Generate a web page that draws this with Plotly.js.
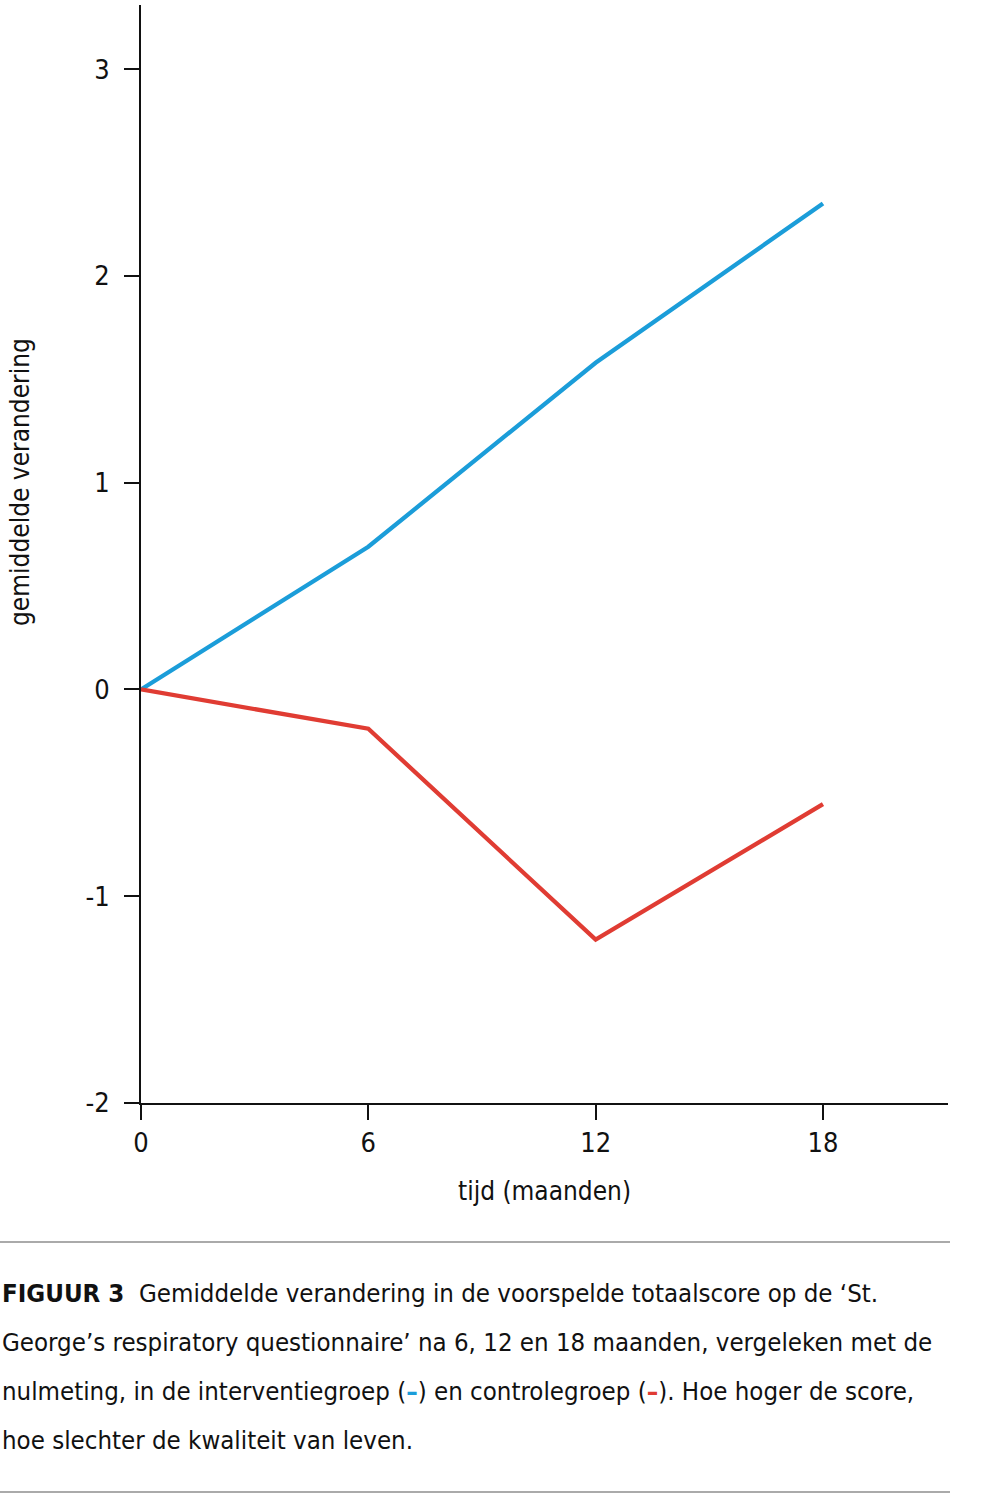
<!DOCTYPE html>
<html>
<head>
<meta charset="utf-8">
<script src="https://cdn.plot.ly/plotly-3.0.1.min.js"></script>
<style>
html,body{margin:0;padding:0;background:#fff;}
#chart{width:991px;height:1503px;}
</style>
</head>
<body>
<div id="chart"></div>
<script>
// Data
const months = [0, 6, 12, 18];
const interventie = [0, 0.69, 1.58, 2.35];
const controle = [0, -0.19, -1.21, -0.555];
const xTicks = [0, 6, 12, 18];
const yTicks = [-2, -1, 0, 1, 2, 3];

const xTitle = 'tijd (maanden)';
const yTitle = 'gemiddelde verandering';
const captionLines = [
  '<b>FIGUUR 3</b>  Gemiddelde verandering in de voorspelde totaalscore op de ‘St.',
  'George’s respiratory questionnaire’ na 6, 12 en 18 maanden, vergeleken met de',
  'nulmeting, in de interventiegroep (<span style="color:#1b9dd9"><b>–</b></span>) en controlegroep (<span style="color:#e03c33"><b>–</b></span>). Hoe hoger de score,',
  'hoe slechter de kwaliteit van leven.'
];

const FONT = '"DejaVu Sans Condensed", "Liberation Sans Narrow", "DejaVu Sans", sans-serif';
const W = 991, H = 1503;
const mL = 141, mR = 43, mT = 5, mB = 400;
const plotW = W - mL - mR, plotH = H - mT - mB;
const px2paperX = px => (px - mL) / plotW;
const px2paperY = py => (H - mB - py) / plotH;

const traces = [
  {x: months, y: interventie, mode: 'lines', line: {color: '#1b9dd9', width: 4.3}, name: 'interventiegroep', hoverinfo: 'x+y'},
  {x: months, y: controle, mode: 'lines', line: {color: '#e03c33', width: 4.3}, name: 'controlegroep', hoverinfo: 'x+y'}
];

const captionY = [1293, 1342, 1391, 1440];
const annotations = captionLines.map((t, i) => ({
  text: t, xref: 'paper', yref: 'paper',
  x: px2paperX(0), y: px2paperY(captionY[i]),
  xanchor: 'left', yanchor: 'middle', showarrow: false, align: 'left',
  font: {family: FONT, size: 25.6, color: '#111'}
}));
annotations.push({
  text: yTitle, xref: 'paper', yref: 'paper',
  x: px2paperX(20), y: px2paperY(482), textangle: -90,
  xanchor: 'center', yanchor: 'middle', showarrow: false,
  font: {family: FONT, size: 26, color: '#111'}
});

const layout = {
  width: W, height: H,
  margin: {l: mL, r: mR, t: mT, b: mB, pad: 0},
  paper_bgcolor: '#fff', plot_bgcolor: '#fff',
  showlegend: false,
  font: {family: FONT, size: 27, color: '#111'},
  xaxis: {
    range: [0, 21.3], tickvals: xTicks, ticktext: xTicks.map(String),
    showgrid: false, zeroline: false, showline: true, linecolor: '#111', linewidth: 2,
    ticks: 'outside', ticklen: 15, tickwidth: 2, tickcolor: '#111',
    ticklabelstandoff: 0,
    tickfont: {family: FONT, size: 27, color: '#111'},
    title: {text: xTitle, standoff: 24, font: {family: FONT, size: 26, color: '#111'}},
    fixedrange: true
  },
  yaxis: {
    range: [-2, 3.31], tickvals: yTicks, ticktext: yTicks.map(String),
    showgrid: false, zeroline: false, showline: true, linecolor: '#111', linewidth: 2,
    ticks: 'outside', ticklen: 15, tickwidth: 2, tickcolor: '#111',
    ticklabelstandoff: 9,
    tickfont: {family: FONT, size: 27, color: '#111'},
    fixedrange: true
  },
  shapes: [
    {type: 'line', xref: 'paper', yref: 'paper', x0: px2paperX(0), x1: px2paperX(950), y0: px2paperY(1242), y1: px2paperY(1242), line: {color: '#aaaaaa', width: 2}},
    {type: 'line', xref: 'paper', yref: 'paper', x0: px2paperX(0), x1: px2paperX(950), y0: px2paperY(1492), y1: px2paperY(1492), line: {color: '#aaaaaa', width: 2}}
  ],
  annotations: annotations
};

Plotly.newPlot('chart', traces, layout, {displayModeBar: false, staticPlot: true});
</script>
</body>
</html>
